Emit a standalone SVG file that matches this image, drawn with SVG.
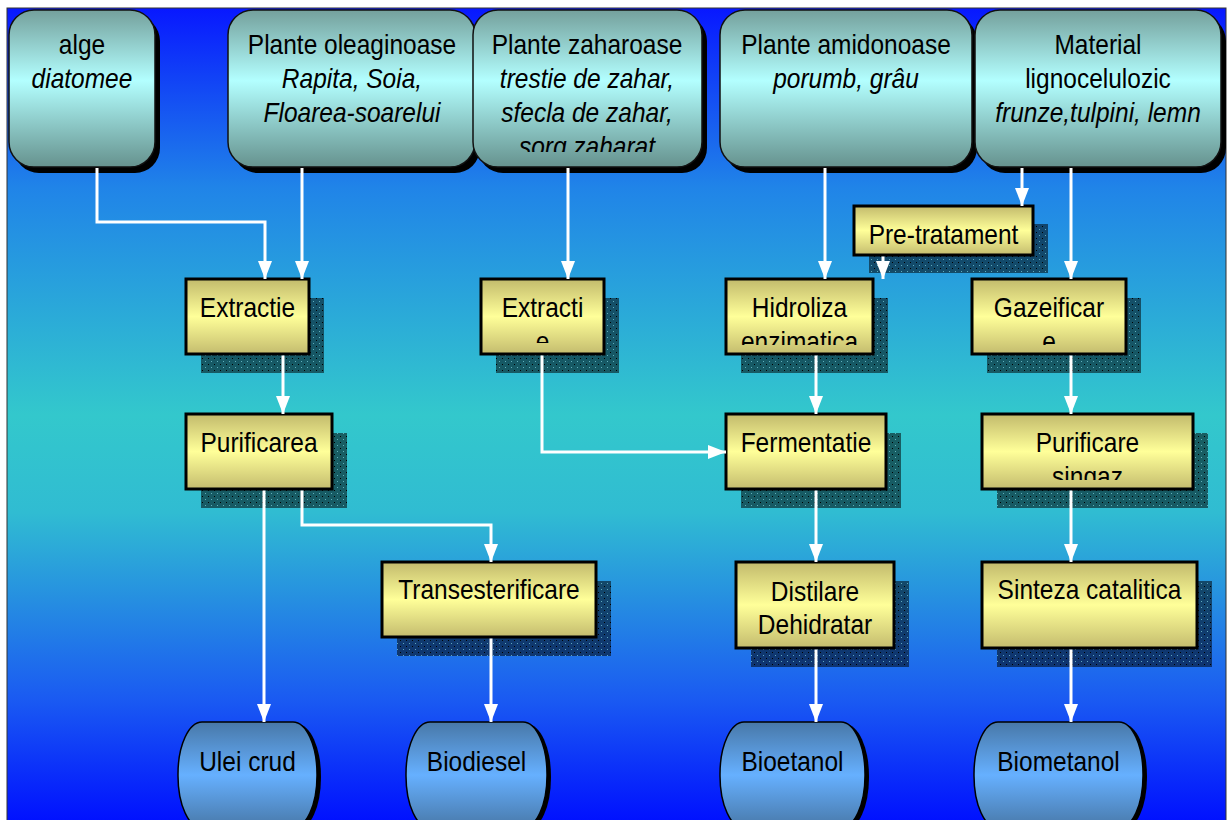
<svg xmlns="http://www.w3.org/2000/svg" width="1227" height="820" viewBox="0 0 1227 820">
<defs>
<linearGradient id="bg" x1="0" y1="0" x2="0" y2="1">
<stop offset="0" stop-color="#0818ff"/>
<stop offset="0.22" stop-color="#2084e8"/>
<stop offset="0.5" stop-color="#33c8cc"/>
<stop offset="0.62" stop-color="#30bcd2"/>
<stop offset="0.85" stop-color="#1a5af2"/>
<stop offset="1" stop-color="#0010ff"/>
</linearGradient>
<linearGradient id="gTop" x1="0" y1="0" x2="0" y2="1">
<stop offset="0" stop-color="#74a09c"/>
<stop offset="0.45" stop-color="#b3ffff"/>
<stop offset="1" stop-color="#66928e"/>
</linearGradient>
<linearGradient id="gYel" x1="0" y1="0" x2="0" y2="1">
<stop offset="0" stop-color="#c2ba6c"/>
<stop offset="0.5" stop-color="#ffff99"/>
<stop offset="1" stop-color="#c4bc6e"/>
</linearGradient>
<linearGradient id="gOut" x1="0" y1="0" x2="0" y2="1">
<stop offset="0" stop-color="#4878a8"/>
<stop offset="0.5" stop-color="#66b0ff"/>
<stop offset="1" stop-color="#4878a8"/>
</linearGradient>
<pattern id="dots" width="6" height="6" patternUnits="userSpaceOnUse">
<rect width="6" height="6" fill="#000" fill-opacity="0.52"/>
<rect x="1" y="1" width="1" height="1" fill="#7fd6e0" fill-opacity="0.7"/>
<rect x="4" y="4" width="1" height="1" fill="#000"/>
</pattern>
<marker id="arr" markerUnits="userSpaceOnUse" markerWidth="18" markerHeight="14" refX="18" refY="7" orient="auto">
<path d="M0,0 L18,7 L0,14 z" fill="#fff"/>
</marker>
<clipPath id="cZah"><rect x="473" y="10" width="229" height="142"/></clipPath>
<clipPath id="cExt2"><rect x="481" y="279" width="123" height="64"/></clipPath>
<clipPath id="cHid"><rect x="726" y="279" width="147" height="66"/></clipPath>
<clipPath id="cGaz"><rect x="972" y="279" width="154" height="66"/></clipPath>
<clipPath id="cPur"><rect x="982" y="414" width="211" height="66"/></clipPath>
</defs>
<style>
.top{fill:url(#gTop);stroke:#111;stroke-width:1.5}
.tsh{fill:#000}
.box{fill:url(#gYel);stroke:#000;stroke-width:3}
.sh{fill:url(#dots)}
.out{fill:url(#gOut);stroke:#000;stroke-width:1.5}
.osh{fill:#000}
text{font-family:"Liberation Sans",Arial,sans-serif;font-size:24.5px;fill:#000;text-anchor:middle;transform-box:fill-box;transform-origin:50% 50%;transform:scaleY(1.12)}
.it{font-style:italic}
.con{fill:none;stroke:#fff;stroke-width:3;marker-end:url(#arr)}
</style>
<rect x="7" y="8" width="1219" height="814" fill="url(#bg)" stroke="#333" stroke-width="1"/>

<g id="n-alge">
<rect class="tsh" x="14" y="16" width="146" height="157" rx="25"/>
<rect class="top" x="9" y="10" width="146" height="157" rx="25"/>
<text x="82" y="53">alge</text>
<text x="82" y="87" class="it">diatomee</text>
</g>
<g id="n-oleaginoase">
<rect class="tsh" x="233" y="16" width="247" height="157" rx="25"/>
<rect class="top" x="228" y="10" width="247" height="157" rx="25"/>
<text x="352" y="53">Plante oleaginoase</text>
<text x="352" y="87" class="it">Rapita, Soia,</text>
<text x="352" y="121" class="it">Floarea-soarelui</text>
</g>
<g id="n-zaharoase">
<rect class="tsh" x="478" y="16" width="229" height="157" rx="25"/>
<rect class="top" x="473" y="10" width="229" height="157" rx="25"/>
<g clip-path="url(#cZah)">
<text x="587" y="53">Plante zaharoase</text>
<text x="587" y="87" class="it">trestie de zahar,</text>
<text x="587" y="121" class="it">sfecla de zahar,</text>
<text x="587" y="155" class="it">sorg zaharat</text>
</g>
</g>
<g id="n-amidonoase">
<rect class="tsh" x="725" y="16" width="252" height="157" rx="25"/>
<rect class="top" x="720" y="10" width="252" height="157" rx="25"/>
<text x="846" y="53">Plante amidonoase</text>
<text x="846" y="87" class="it">porumb, grâu</text>
</g>
<g id="n-material">
<rect class="tsh" x="980" y="16" width="246" height="157" rx="25"/>
<rect class="top" x="975" y="10" width="246" height="157" rx="25"/>
<text x="1098" y="53">Material</text>
<text x="1098" y="87">lignocelulozic</text>
<text x="1098" y="121" class="it">frunze,tulpini, lemn</text>
</g>

<g id="n-extractie1">
<rect class="sh" x="201" y="298" width="123" height="75"/>
<rect class="box" x="186" y="279" width="123" height="75"/>
<text x="247.5" y="316">Extractie</text>
</g>
<g id="n-extractie2">
<rect class="sh" x="496" y="298" width="123" height="75"/>
<rect class="box" x="481" y="279" width="123" height="75"/>
<g clip-path="url(#cExt2)">
<text x="542.5" y="316">Extracti</text>
<text x="542.5" y="350">e</text>
</g>
</g>
<g id="n-pretratament">
<rect class="sh" x="869" y="224" width="179" height="49"/>
<rect class="box" x="854" y="206" width="179" height="49"/>
<text x="943.5" y="243">Pre-tratament</text>
</g>
<g id="n-hidroliza">
<rect class="sh" x="741" y="298" width="147" height="75"/>
<rect class="box" x="726" y="279" width="147" height="75"/>
<g clip-path="url(#cHid)">
<text x="799.5" y="316">Hidroliza</text>
<text x="799.5" y="350">enzimatica</text>
</g>
</g>
<g id="n-gazeificare">
<rect class="sh" x="987" y="298" width="154" height="75"/>
<rect class="box" x="972" y="279" width="154" height="75"/>
<g clip-path="url(#cGaz)">
<text x="1049" y="316">Gazeificar</text>
<text x="1049" y="350">e</text>
</g>
</g>
<g id="n-purificarea">
<rect class="sh" x="201" y="433" width="146" height="75"/>
<rect class="box" x="186" y="414" width="146" height="75"/>
<text x="259" y="451">Purificarea</text>
</g>
<g id="n-fermentatie">
<rect class="sh" x="741" y="433" width="160" height="75"/>
<rect class="box" x="726" y="414" width="160" height="75"/>
<text x="806" y="451">Fermentatie</text>
</g>
<g id="n-purificare-singaz">
<rect class="sh" x="997" y="433" width="211" height="75"/>
<rect class="box" x="982" y="414" width="211" height="75"/>
<g clip-path="url(#cPur)">
<text x="1087.5" y="451">Purificare</text>
<text x="1087.5" y="485">singaz</text>
</g>
</g>
<g id="n-transesterificare">
<rect class="sh" x="397" y="581" width="214" height="75"/>
<rect class="box" x="382" y="562" width="214" height="75"/>
<text x="489" y="598">Transesterificare</text>
</g>
<g id="n-distilare">
<rect class="sh" x="751" y="581" width="158" height="86"/>
<rect class="box" x="736" y="562" width="158" height="86"/>
<text x="815" y="600">Distilare</text>
<text x="815" y="633">Dehidratar</text>
</g>
<g id="n-sinteza">
<rect class="sh" x="997" y="581" width="215" height="86"/>
<rect class="box" x="982" y="562" width="215" height="86"/>
<text x="1089.5" y="598">Sinteza catalitica</text>
</g>

<g id="n-ulei">
<rect class="osh" x="182" y="724" width="139" height="106" rx="24" ry="52"/>
<rect class="out" x="178" y="722" width="139" height="106" rx="24" ry="52"/>
<text x="247.5" y="770">Ulei crud</text>
</g>
<g id="n-biodiesel">
<rect class="osh" x="410" y="724" width="141" height="106" rx="24" ry="52"/>
<rect class="out" x="406" y="722" width="141" height="106" rx="24" ry="52"/>
<text x="476.5" y="770">Biodiesel</text>
</g>
<g id="n-bioetanol">
<rect class="osh" x="724" y="724" width="145" height="106" rx="24" ry="52"/>
<rect class="out" x="720" y="722" width="145" height="106" rx="24" ry="52"/>
<text x="792.5" y="770">Bioetanol</text>
</g>
<g id="n-biometanol">
<rect class="osh" x="978" y="724" width="169" height="106" rx="24" ry="52"/>
<rect class="out" x="974" y="722" width="169" height="106" rx="24" ry="52"/>
<text x="1058.5" y="770">Biometanol</text>
</g>

<g id="connectors">
<path class="con" d="M97,168 V222 H265 V279"/>
<path class="con" d="M302,168 V279"/>
<path class="con" d="M283,355.5 V414"/>
<path class="con" d="M264,490.5 V722"/>
<path class="con" d="M302,490.5 V525 H491 V562"/>
<path class="con" d="M491,638.5 V722"/>
<path class="con" d="M568,168 V279"/>
<path class="con" d="M542,355.5 V452 H726"/>
<path class="con" d="M825,168 V279"/>
<path class="con" d="M1022,168 V206"/>
<path class="con" d="M883,256.5 V279"/>
<path class="con" d="M1071,168 V279"/>
<path class="con" d="M816,355.5 V414"/>
<path class="con" d="M1071,355.5 V414"/>
<path class="con" d="M816,490.5 V562"/>
<path class="con" d="M1071,490.5 V562"/>
<path class="con" d="M816,649.5 V722"/>
<path class="con" d="M1071,649.5 V722"/>
</g>
</svg>
